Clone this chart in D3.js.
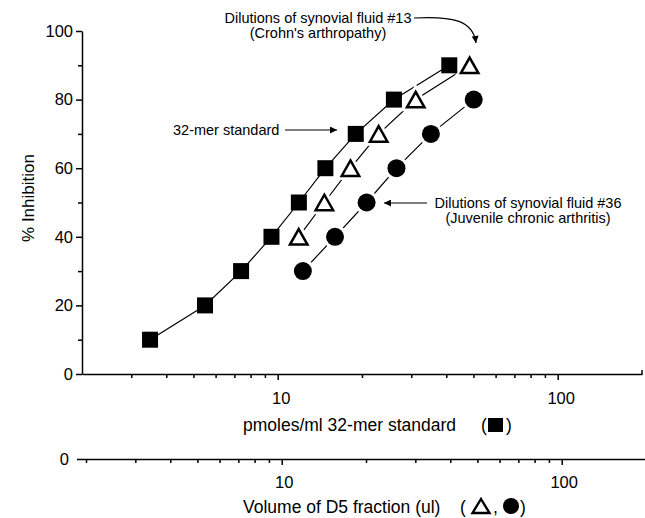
<!DOCTYPE html>
<html><head><meta charset="utf-8">
<script src="https://cdn.jsdelivr.net/npm/d3@7"></script>
<style>
body{margin:0;background:#fff}
svg{display:block}
text{font-family:"Liberation Sans",Arial,Helvetica,sans-serif;fill:#000}
</style>
</head><body>
<svg id="c" width="645" height="518"></svg>
<script>
// ---- data ----
const stdConc   = [3.5, 5.5, 7.4, 9.5, 11.9, 14.8, 19, 26, 41];   // pmoles/ml 32-mer standard
const stdInhib  = [10, 20, 30, 40, 50, 60, 70, 80, 90];
const sf13Vol   = [11.5, 14.2, 17.6, 22.2, 30.1, 46.9];           // ul of D5 fraction, fluid #13
const sf13Inhib = [40, 50, 60, 70, 80, 90];
const sf36Vol   = [11.9, 15.5, 20.1, 25.7, 34.1, 48.5];           // ul of D5 fraction, fluid #36
const sf36Inhib = [30, 40, 50, 60, 70, 80];
const xMajorTicks = [10, 100];
const xMinorTicksTop = [3, 4, 5, 6, 7, 8, 9, 20, 30, 40, 50, 60, 70, 80, 90];
const xMinorTicksBottom = [2, 3, 4, 5, 6, 7, 8, 9, 20, 30, 40, 50, 60, 70, 80, 90];
const yMajorTicks = [0, 20, 40, 60, 80, 100];
const yMinorTicks = [10, 30, 50, 70, 90];
const yTitle = "% Inhibition";
const xTitleTop = "pmoles/ml 32-mer standard";
const xTitleBottom = "Volume of D5 fraction (ul)";
const noteStd = "32-mer standard";
const note13 = ["Dilutions of synovial fluid #13", "(Crohn's arthropathy)"];
const note36 = ["Dilutions of synovial fluid #36", "(Juvenile chronic arthritis)"];

const svg = d3.select("#c");
const FONT = '"Liberation Sans",Arial,Helvetica,sans-serif';

const xTop = d3.scaleLog().domain([2, 200]).range([82, 642]);
const xBot = d3.scaleLog().domain([2, 200]).range([86, 646]);
const y = d3.scaleLinear().domain([0, 100]).range([374, 31]);
const topY = 374, botY = 459;

const defs = svg.append("defs");
defs.append("marker").attr("id", "ah").attr("viewBox", "0 0 10 10")
  .attr("refX", 10).attr("refY", 5).attr("markerWidth", 9).attr("markerHeight", 7)
  .attr("markerUnits", "userSpaceOnUse").attr("orient", "auto")
  .append("path").attr("d", "M0,0L10,5L0,10z").attr("fill", "#000");

function styleAxis(g, fs) {
  g.attr("font-family", FONT).attr("font-size", fs);
  g.selectAll("path,line").attr("stroke", "#000").attr("stroke-width", 1.5);
  g.selectAll("text").attr("fill", "#000");
}

// ---- Y axis ----
const gy = svg.append("g").attr("transform", "translate(82,0)")
  .call(d3.axisLeft(y).tickValues(yMajorTicks).tickSize(6).tickPadding(3).tickSizeOuter(0));
styleAxis(gy, 16.5);
const gym = svg.append("g").attr("transform", "translate(82,0)")
  .call(d3.axisLeft(y).tickValues(yMinorTicks).tickSize(4).tickFormat(""));
styleAxis(gym, 16);
gym.select(".domain").remove();

// ---- top X axis (pmoles/ml) ----
const gx = svg.append("g").attr("transform", `translate(0,${topY})`)
  .call(d3.axisBottom(xTop).tickValues(xMajorTicks).tickFormat(d3.format("d")).tickSize(6).tickPadding(12).tickSizeOuter(0));
styleAxis(gx, 16.5);
gx.selectAll("text").attr("dx", 3);
const gxm = svg.append("g").attr("transform", `translate(0,${topY})`)
  .call(d3.axisBottom(xTop).tickValues(xMinorTicksTop).tickSize(4).tickFormat(""));
styleAxis(gxm, 16);
gxm.select(".domain").remove();
svg.append("line").attr("x1", xTop(200)).attr("x2", xTop(200))
  .attr("y1", topY - 4).attr("y2", topY + 0.5).attr("stroke", "#000").attr("stroke-width", 1.5);

// ---- bottom X axis (volume) ----
const gb = svg.append("g").attr("transform", `translate(0,${botY})`)
  .call(d3.axisBottom(xBot).tickValues(xMajorTicks).tickFormat(d3.format("d")).tickSize(6).tickPadding(11.5).tickSizeOuter(0));
styleAxis(gb, 16.5);
gb.select(".domain").remove();
gb.selectAll("text").attr("dx", 2);
const gbm = svg.append("g").attr("transform", `translate(0,${botY})`)
  .call(d3.axisBottom(xBot).tickValues(xMinorTicksBottom).tickSize(4).tickFormat(""));
styleAxis(gbm, 16);
gbm.select(".domain").remove();
svg.append("line").attr("x1", 77).attr("x2", 645).attr("y1", botY + 0.5).attr("y2", botY + 0.5)
  .attr("stroke", "#000").attr("stroke-width", 1.5);
svg.append("text").attr("x", 69).attr("y", botY).attr("dy", "0.35em").attr("text-anchor", "end")
  .attr("font-size", 16.5).text("0");

// ---- titles ----
svg.append("text").attr("transform", "translate(28,198) rotate(-90)")
  .attr("text-anchor", "middle").attr("dy", "0.35em").attr("font-size", 17).text(yTitle);
svg.append("text").attr("x", 243).attr("y", 431).attr("font-size", 17.5).text(xTitleTop);
svg.append("text").attr("x", 481).attr("y", 431).attr("font-size", 17.5).text("(");
svg.append("rect").attr("x", 488).attr("y", 418).attr("width", 15).attr("height", 14).attr("fill", "#000");
svg.append("text").attr("x", 506).attr("y", 431).attr("font-size", 17.5).text(")");

svg.append("text").attr("x", 243).attr("y", 513).attr("font-size", 17.5).text(xTitleBottom);
svg.append("text").attr("x", 460).attr("y", 513).attr("font-size", 17.5).text("(");
function triPath(cx, cy, w, h) {
  return `M${cx},${cy - h / 2}L${cx + w / 2},${cy + h / 2}L${cx - w / 2},${cy + h / 2}Z`;
}
svg.append("path").attr("d", triPath(481, 506, 17, 14)).attr("fill", "#fff").attr("stroke", "#000").attr("stroke-width", 2.4);
svg.append("text").attr("x", 493).attr("y", 513).attr("font-size", 17.5).text(",");
svg.append("circle").attr("cx", 511).attr("cy", 506).attr("r", 8).attr("fill", "#000");
svg.append("text").attr("x", 520).attr("y", 513).attr("font-size", 17.5).text(")");

// ---- series ----
const stdPts = d3.zip(stdConc, stdInhib);
const p13 = d3.zip(sf13Vol, sf13Inhib);
const p36 = d3.zip(sf36Vol, sf36Inhib);

const lineTop = d3.line().x(d => xTop(d[0])).y(d => y(d[1]));
const lineBot = d3.line().x(d => xBot(d[0])).y(d => y(d[1]));
const plot = svg.append("g");
plot.append("path").attr("d", lineTop(stdPts)).attr("fill", "none").attr("stroke", "#000").attr("stroke-width", 1.2);
plot.append("path").attr("d", lineBot(p13)).attr("fill", "none").attr("stroke", "#000").attr("stroke-width", 1.2);
plot.append("path").attr("d", lineBot(p36)).attr("fill", "none").attr("stroke", "#000").attr("stroke-width", 1.2);

// halos
plot.selectAll(".h13").data(p13).join("path")
  .attr("d", d => triPath(xBot(d[0]), y(d[1]), 17.5, 15.5))
  .attr("fill", "#fff").attr("stroke", "#fff").attr("stroke-width", 8);
plot.selectAll(".h36").data(p36).join("circle")
  .attr("cx", d => xBot(d[0])).attr("cy", d => y(d[1])).attr("r", 12).attr("fill", "#fff");

// markers
const SQ = 16;
plot.selectAll(".sq").data(stdPts).join("rect")
  .attr("x", d => xTop(d[0]) - SQ / 2).attr("y", d => y(d[1]) - SQ / 2)
  .attr("width", SQ).attr("height", SQ).attr("fill", "#000");
plot.selectAll(".tri").data(p13).join("path")
  .attr("d", d => triPath(xBot(d[0]), y(d[1]), 17.5, 15.5))
  .attr("fill", "#fff").attr("stroke", "#000").attr("stroke-width", 2.5).attr("stroke-linejoin", "miter");
plot.selectAll(".dot").data(p36).join("circle")
  .attr("cx", d => xBot(d[0])).attr("cy", d => y(d[1])).attr("r", 9).attr("fill", "#000");

// ---- annotations ----
const ann = svg.append("g").attr("font-size", 14.5);
ann.append("text").attr("x", 318).attr("y", 23).attr("text-anchor", "middle").text(note13[0]);
ann.append("text").attr("x", 318).attr("y", 38).attr("text-anchor", "middle").text(note13[1]);
svg.append("path").attr("d", "M414,18 C452,16 473,20 476,43").attr("fill", "none")
  .attr("stroke", "#000").attr("stroke-width", 1.2).attr("marker-end", "url(#ah)");

ann.append("text").attr("x", 173).attr("y", 135).text(noteStd);
svg.append("line").attr("x1", 285).attr("x2", 337).attr("y1", 130).attr("y2", 130)
  .attr("stroke", "#000").attr("stroke-width", 1.2).attr("marker-end", "url(#ah)");

ann.append("text").attr("x", 528).attr("y", 208).attr("text-anchor", "middle").text(note36[0]);
ann.append("text").attr("x", 528).attr("y", 223).attr("text-anchor", "middle").text(note36[1]);
svg.append("line").attr("x1", 427).attr("x2", 384).attr("y1", 203).attr("y2", 203)
  .attr("stroke", "#000").attr("stroke-width", 1.2).attr("marker-end", "url(#ah)");
</script>
</body></html>
